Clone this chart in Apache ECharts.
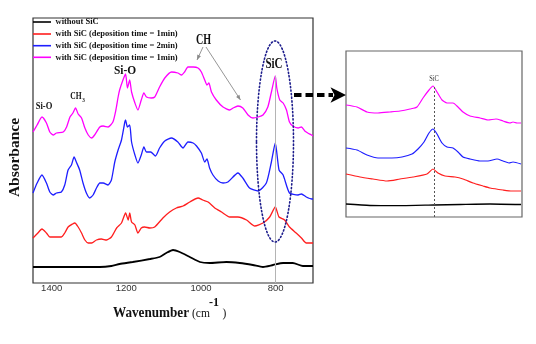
<!DOCTYPE html>
<html><head><meta charset="utf-8">
<script src="https://cdn.jsdelivr.net/npm/echarts@6/dist/echarts.min.js"></script>
<style>html,body{margin:0;padding:0;background:#fff}#c{width:536px;height:344px}</style>
</head><body><div id="c"></div><script>
// ---- data ----
const seriesNames = ['without SiC', 'with SiC (deposition time = 1min)', 'with SiC (deposition time = 2min)', 'with SiC (deposition time = 1min)'];
const seriesColors = ['#000000', '#ff1e1e', '#1e1eff', '#ff00ff'];
const xTicks = [1400, 1200, 1000, 800];

// main panel: [wavenumber (cm-1), absorbance (a.u., offset)]
const noSiC = [[1450,0.16],[1271,0.16],[1240,0.17],[1218,0.19],[1183,0.21],[1137,0.24],[1111,0.26],[1093,0.30],[1075,0.33],[1057,0.31],[1030,0.26],[1003,0.21],[977,0.20],[932,0.21],[896,0.20],[861,0.18],[834,0.16],[807,0.18],[780,0.20],[754,0.20],[727,0.17],[700,0.17]];
const sic1 = [[1450,0.45],[1437,0.50],[1426,0.54],[1414,0.50],[1405,0.46],[1392,0.46],[1374,0.46],[1365,0.50],[1356,0.56],[1344,0.59],[1338,0.60],[1329,0.56],[1320,0.50],[1311,0.43],[1302,0.40],[1293,0.40],[1280,0.43],[1267,0.44],[1253,0.43],[1240,0.46],[1226,0.55],[1213,0.60],[1202,0.70],[1195,0.63],[1191,0.70],[1186,0.61],[1177,0.58],[1169,0.50],[1160,0.55],[1151,0.56],[1137,0.55],[1124,0.56],[1102,0.65],[1084,0.71],[1066,0.75],[1048,0.77],[1030,0.81],[1008,0.85],[995,0.83],[981,0.81],[963,0.75],[945,0.71],[923,0.66],[901,0.66],[878,0.63],[856,0.57],[834,0.60],[816,0.66],[801,0.76],[791,0.66],[776,0.63],[763,0.56],[745,0.50],[731,0.45],[718,0.40],[703,0.40],[700,0.40]];
const sic2 = [[1450,0.90],[1439,1.00],[1426,1.08],[1414,1.00],[1405,0.91],[1396,0.88],[1387,0.90],[1374,0.91],[1365,0.98],[1356,1.13],[1347,1.18],[1340,1.26],[1334,1.21],[1325,1.13],[1316,1.00],[1307,0.90],[1298,0.85],[1289,0.88],[1280,0.95],[1271,1.00],[1262,1.00],[1249,0.98],[1240,1.03],[1231,1.21],[1222,1.33],[1213,1.43],[1204,1.61],[1202,1.63],[1197,1.56],[1191,1.58],[1186,1.41],[1177,1.28],[1169,1.20],[1160,1.28],[1153,1.36],[1146,1.31],[1135,1.31],[1122,1.27],[1111,1.35],[1097,1.42],[1079,1.45],[1062,1.41],[1048,1.35],[1035,1.41],[1021,1.40],[1012,1.37],[999,1.30],[990,1.21],[984,1.24],[977,1.15],[968,1.08],[954,1.02],[941,1.00],[928,1.01],[901,1.10],[888,1.05],[870,0.95],[847,0.92],[825,1.00],[812,1.20],[801,1.40],[791,1.13],[780,1.08],[763,0.90],[740,0.88],[731,0.89],[718,0.86],[703,0.84],[700,0.84]];
const sic3 = [[1450,1.51],[1439,1.58],[1426,1.66],[1414,1.60],[1405,1.51],[1396,1.48],[1387,1.50],[1369,1.51],[1360,1.56],[1351,1.66],[1343,1.70],[1336,1.75],[1329,1.69],[1320,1.65],[1311,1.55],[1302,1.48],[1293,1.45],[1285,1.48],[1271,1.56],[1262,1.57],[1249,1.56],[1236,1.61],[1228,1.73],[1222,1.86],[1218,1.93],[1209,2.03],[1202,2.09],[1197,1.95],[1191,2.03],[1186,1.91],[1177,1.80],[1169,1.73],[1160,1.83],[1153,1.90],[1146,1.86],[1133,1.85],[1124,1.86],[1111,1.96],[1097,2.05],[1079,2.11],[1062,2.10],[1052,2.08],[1044,2.11],[1035,2.16],[1021,2.16],[1008,2.15],[999,2.11],[990,2.03],[984,1.98],[979,2.00],[972,1.91],[959,1.83],[941,1.76],[923,1.73],[914,1.75],[901,1.77],[888,1.75],[874,1.68],[861,1.65],[847,1.66],[834,1.68],[821,1.76],[812,1.90],[801,2.07],[797,1.95],[789,1.83],[780,1.80],[771,1.73],[763,1.61],[754,1.57],[740,1.55],[731,1.56],[722,1.52],[714,1.50],[704,1.48],[700,1.47]];

// inset (SiC region, enlarged)
const insetNoSiC = [[888,0.13],[864,0.115],[834,0.113],[800,0.12],[774,0.125],[744,0.13],[713,0.125]];
const insetSic1 = [[888,0.43],[874,0.40],[861,0.38],[847,0.36],[834,0.38],[821,0.40],[807,0.43],[801,0.48],[796,0.44],[789,0.41],[779,0.40],[771,0.38],[761,0.34],[751,0.31],[744,0.29],[731,0.27],[722,0.26],[713,0.26]];
const insetSic2 = [[888,0.69],[877,0.67],[867,0.62],[856,0.59],[842,0.59],[832,0.60],[822,0.63],[816,0.68],[810,0.75],[805,0.84],[801,0.88],[797,0.83],[792,0.74],[787,0.70],[781,0.69],[776,0.65],[771,0.60],[764,0.58],[754,0.56],[746,0.56],[737,0.58],[731,0.56],[725,0.54],[721,0.55],[713,0.53]];
const insetSic3 = [[888,1.12],[877,1.10],[867,1.05],[856,1.04],[844,1.05],[834,1.06],[824,1.08],[817,1.10],[811,1.19],[805,1.27],[801,1.31],[797,1.25],[792,1.17],[787,1.14],[781,1.14],[776,1.10],[771,1.05],[764,1.01],[754,0.99],[746,0.97],[738,0.98],[731,0.96],[724,0.94],[721,0.95],[717,0.94],[713,0.94]];

// ---- chart ----
const chart = echarts.init(document.getElementById('c'), null, {renderer: 'canvas'});
const SERIF = 'Liberation Serif';
const SANS = 'Liberation Sans';

function lineSeries(name, data, color, gi, w) {
  return {type: 'line', name: name, data: data, xAxisIndex: gi, yAxisIndex: gi,
    showSymbol: false, symbol: 'none', smooth: 0.2, lineStyle: {color: color, width: w}, itemStyle: {color: color},
    silent: true, animation: false, z: 3};
}

const mainSets = [noSiC, sic1, sic2, sic3];
const insetSets = [insetNoSiC, insetSic1, insetSic2, insetSic3];
const series = [];
mainSets.forEach((d, i) => series.push(lineSeries(seriesNames[i], d, seriesColors[i], 0, i === 0 ? 1.8 : 1.3)));
insetSets.forEach((d, i) => series.push(lineSeries(seriesNames[i], d, seriesColors[i], 1, i === 0 ? 1.3 : 1.2)));

// reference lines at the SiC band (800 cm-1)
series[0].markLine = {silent: true, symbol: ['none', 'none'], animation: false, label: {show: false},
  lineStyle: {color: '#b4b4b4', width: 1, type: 'solid'},
  data: [[{coord: [800, 0]}, {coord: [800, 2.07]}]]};
series[4].markLine = {silent: true, symbol: ['none', 'none'], animation: false, label: {show: false},
  lineStyle: {color: '#555', width: 1, type: [2, 2]},
  data: [[{coord: [800, 0]}, {coord: [800, 1.30]}]]};

function arrowHead(x1, y1, x2, y2, len, half) {
  const dx = x2 - x1, dy = y2 - y1, L = Math.hypot(dx, dy), ux = dx / L, uy = dy / L;
  const bx = x2 - len * ux, by = y2 - len * uy;
  return [[x2, y2], [bx - half * uy, by + half * ux], [bx + half * uy, by - half * ux]];
}

const graphics = [];
// legend (drawn manually: two entries share the same label text)
const legendY = [22, 34, 45.7, 57.3];
seriesNames.forEach((n, i) => {
  graphics.push({type: 'line', shape: {x1: 33, y1: legendY[i], x2: 51, y2: legendY[i]}, style: {stroke: seriesColors[i], lineWidth: 1.6}, z: 50});
  graphics.push({type: 'text', x: 55.5, y: legendY[i], style: {text: n, fontFamily: SERIF, fontWeight: 'bold', fontSize: 8.5, fill: '#111', align: 'left', verticalAlign: 'middle'}, z: 50});
});

function label(text, x, y, size, sx, bold, color) {
  return {type: 'text', x: x, y: y, scaleX: sx, style: {text: text, fontFamily: SERIF, fontWeight: bold ? 'bold' : 'normal', fontSize: size, fill: color || '#111', align: 'center', verticalAlign: 'middle'}, z: 60};
}
graphics.push(label('CH', 203.5, 40.5, 14, 0.72, true));
graphics.push(label('SiC', 274, 64.5, 14.5, 0.76, true));
graphics.push(label('Si-O', 125, 71, 13, 0.88, true));
graphics.push(label('CH', 76, 96.5, 10.5, 0.72, true));
graphics.push({type: 'text', x: 82.3, y: 100.5, scaleX: 0.8, style: {text: '3', fontFamily: SERIF, fontWeight: 'bold', fontSize: 6.5, fill: '#111', align: 'left', verticalAlign: 'middle'}, z: 60});
graphics.push(label('Si-O', 44, 106.5, 9.5, 0.9, true));
graphics.push(label('SiC', 434, 79, 7.5, 0.85, false, '#333'));

// CH arrows
[[203, 47, 197, 60], [206, 47, 240.5, 100]].forEach(a => {
  graphics.push({type: 'line', shape: {x1: a[0], y1: a[1], x2: a[2], y2: a[3]}, style: {stroke: '#8a8a8a', lineWidth: 0.9}, z: 55});
  graphics.push({type: 'polygon', shape: {points: arrowHead(a[0], a[1], a[2], a[3], 5, 2)}, style: {fill: '#8a8a8a'}, z: 55});
});

// dotted ellipse around the SiC band
graphics.push({type: 'ellipse', shape: {cx: 275, cy: 141.5, rx: 18.5, ry: 100.5}, style: {fill: 'none', stroke: '#1c1c8c', lineWidth: 1.6, lineDash: [1.2, 2.4], lineCap: 'round'}, z: 70});

// dashed arrow to the inset
graphics.push({type: 'line', shape: {x1: 294, y1: 95, x2: 333, y2: 95}, style: {stroke: '#000', lineWidth: 4, lineDash: [7.5, 4]}, z: 70});
graphics.push({type: 'polygon', shape: {points: [[330.5, 87.3], [346, 95], [330.5, 102.7], [334.5, 95]]}, style: {fill: '#000'}, z: 70});

// axis titles
graphics.push({type: 'text', x: 15, y: 157.5, rotation: Math.PI / 2, style: {text: 'Absorbance', fontFamily: SERIF, fontWeight: 'bold', fontSize: 15.5, fill: '#111', align: 'center', verticalAlign: 'middle'}, z: 60});
graphics.push({type: 'text', x: 113, y: 313, scaleX: 0.94, style: {text: 'Wavenumber', fontFamily: SERIF, fontWeight: 'bold', fontSize: 14, fill: '#111', align: 'left', verticalAlign: 'middle'}, z: 60});
graphics.push({type: 'text', x: 192, y: 314, style: {text: '(cm', fontFamily: SERIF, fontWeight: 'normal', fontSize: 11.5, fill: '#111', align: 'left', verticalAlign: 'middle'}, z: 60});
graphics.push({type: 'text', x: 209, y: 302.5, style: {text: '-1', fontFamily: SERIF, fontWeight: 'bold', fontSize: 12, fill: '#111', align: 'left', verticalAlign: 'middle'}, z: 60});
graphics.push({type: 'text', x: 222.5, y: 314, style: {text: ')', fontFamily: SERIF, fontWeight: 'normal', fontSize: 11.5, fill: '#111', align: 'left', verticalAlign: 'middle'}, z: 60});

const option = {
  animation: false,
  backgroundColor: '#ffffff',
  grid: [
    {left: 33, top: 18, width: 280, height: 265, show: true, borderColor: '#333', borderWidth: 1.2, backgroundColor: 'transparent'},
    {left: 346, top: 51, width: 176, height: 166, show: true, borderColor: '#666', borderWidth: 1.2, backgroundColor: 'transparent'}
  ],
  xAxis: [
    {type: 'value', gridIndex: 0, min: 700, max: 1450, inverse: true,
      axisLine: {show: false}, axisTick: {show: false}, splitLine: {show: false},
      axisLabel: {show: true, customValues: xTicks, formatter: v => String(v), margin: 0, fontSize: 9.5, fontFamily: SANS, color: '#333'}},
    {type: 'value', gridIndex: 1, min: 712, max: 888, inverse: true,
      axisLine: {show: false}, axisTick: {show: false}, splitLine: {show: false}, axisLabel: {show: false}}
  ],
  yAxis: [
    {type: 'value', gridIndex: 0, min: 0, max: 2.65, axisLine: {show: false}, axisTick: {show: false}, splitLine: {show: false}, axisLabel: {show: false}},
    {type: 'value', gridIndex: 1, min: 0, max: 1.66, axisLine: {show: false}, axisTick: {show: false}, splitLine: {show: false}, axisLabel: {show: false}}
  ],
  series: series,
  graphic: {elements: graphics}
};
chart.setOption(option);
</script></body></html>
